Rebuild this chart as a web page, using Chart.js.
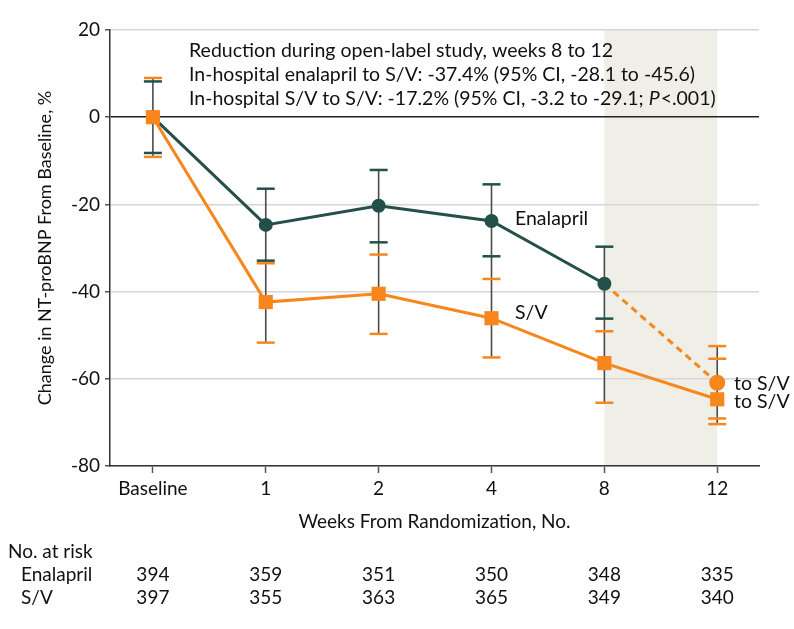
<!DOCTYPE html>
<html lang="en">
<head>
<meta charset="UTF-8">
<title>NT-proBNP change</title>
<script src="https://cdn.jsdelivr.net/npm/chart.js"></script>
<style>
  html, body { margin: 0; padding: 0; background: #fff; }
  #wrap { width: 794px; height: 629px; }
</style>
</head>
<body>
<div id="wrap"><canvas id="chart" width="794" height="629"></canvas></div>
<script>
// categories
const weekLabels = ['Baseline', '1', '2', '4', '8', '12'];

// Enalapril (randomized phase, baseline..week 8)
const enalMean  = [0, -24.7, -20.3, -23.8, -38.2];
const enalUpper = [8.2, -16.4, -12.1, -15.4, -29.7];
const enalLower = [-8.2, -32.9, -28.7, -31.9, -46.2];

// S/V (baseline..week 12)
const svMean  = [0, -42.4, -40.5, -46.1, -56.4, -64.7];
const svUpper = [9.0, -33.5, -31.5, -37.1, -49.1, -55.4];
const svLower = [-9.1, -51.7, -49.7, -55.1, -65.5, -70.4];

// enalapril switched to S/V at week 12
const switchMean  = -60.9;
const switchUpper = -52.5;
const switchLower = -69.1;

// number at risk
const atRiskEnal = [394, 359, 351, 350, 348, 335];
const atRiskSV   = [397, 355, 363, 365, 349, 340];

const annotation = [
  'Reduction during open-label study, weeks 8 to 12',
  'In-hospital enalapril to S/V: -37.4% (95% CI, -28.1 to -45.6)',
  'In-hospital S/V to S/V: -17.2% (95% CI, -3.2 to -29.1; '
];

const TEAL = '#24504b';
const ORANGE = '#f7861c';
const FONT = 'Lato';

const pts = (arr) => arr.map((v, i) => ({ x: i, y: v }));

const shading = {
  id: 'shading',
  beforeDraw(chart) {
    const { ctx, chartArea, scales } = chart;
    ctx.save();
    ctx.fillStyle = '#fff';
    ctx.fillRect(0, 0, chart.width, chart.height);
    const x0 = scales.x.getPixelForValue(4);
    const x1 = scales.x.getPixelForValue(5);
    ctx.fillStyle = '#efefe8';
    ctx.fillRect(x0, chartArea.top, x1 - x0, chartArea.bottom - chartArea.top);
    ctx.restore();
  }
};

const errorBars = {
  id: 'errorBars',
  beforeDatasetsDraw(chart) {
    const { ctx, scales } = chart;
    const xs = scales.x, ys = scales.y;
    const cap = 9;
    const drawBar = (i, up, lo, color) => {
      const x = xs.getPixelForValue(i);
      ctx.strokeStyle = color;
      ctx.lineWidth = 2.5;
      [up, lo].forEach(v => {
        const y = ys.getPixelForValue(v);
        ctx.beginPath();
        ctx.moveTo(x - cap, y);
        ctx.lineTo(x + cap, y);
        ctx.stroke();
      });
    };
    ctx.save();
    // vertical whiskers
    ctx.strokeStyle = '#4a4a4a';
    ctx.lineWidth = 1.6;
    for (let i = 0; i < weekLabels.length; i++) {
      const vals = [svUpper[i], svLower[i]];
      if (i < enalMean.length) vals.push(enalUpper[i], enalLower[i]);
      if (i === 5) vals.push(switchUpper, switchLower);
      const x = xs.getPixelForValue(i);
      ctx.beginPath();
      ctx.moveTo(x, ys.getPixelForValue(Math.max(...vals)));
      ctx.lineTo(x, ys.getPixelForValue(Math.min(...vals)));
      ctx.stroke();
    }
    enalMean.forEach((v, i) => drawBar(i, enalUpper[i], enalLower[i], TEAL));
    svMean.forEach((v, i) => drawBar(i, svUpper[i], svLower[i], ORANGE));
    drawBar(5, switchUpper, switchLower, ORANGE);
    ctx.restore();
  }
};

const labels = {
  id: 'labels',
  afterDraw(chart) {
    const { ctx, scales } = chart;
    const xs = scales.x, ys = scales.y;
    const aFont = `19.5px ${FONT}`;
    ctx.save();
    ctx.fillStyle = '#111';
    ctx.textBaseline = 'middle';
    ctx.textAlign = 'left';
    ctx.font = aFont;
    // annotation block
    ctx.fillText(annotation[0], 189, 51);
    ctx.fillText(annotation[1], 189, 75);
    ctx.fillText(annotation[2], 189, 99);
    const w = ctx.measureText(annotation[2]).width;
    ctx.font = `italic 19.5px ${FONT}`;
    ctx.fillText('P', 189 + w, 99);
    const wp = ctx.measureText('P').width;
    ctx.font = aFont;
    ctx.fillText('<.001)', 189 + w + wp + 1, 99);

    // series labels
    ctx.font = `19.5px ${FONT}`;
    ctx.fillText('Enalapril', 515, ys.getPixelForValue(-23.3));
    ctx.fillText('S/V', 515, ys.getPixelForValue(-44.8));
    ctx.fillText('to S/V', 734, ys.getPixelForValue(switchMean) + 1);
    ctx.fillText('to S/V', 734, ys.getPixelForValue(svMean[5]) + 2);

    // number at risk table
    ctx.font = `19px ${FONT}`;
    ctx.fillText('No. at risk', 8, 552);
    ctx.fillText('Enalapril', 21, 575);
    ctx.fillText('S/V', 21, 598);
    ctx.textAlign = 'center';
    atRiskEnal.forEach((n, i) => ctx.fillText(String(n), xs.getPixelForValue(i), 575));
    atRiskSV.forEach((n, i) => ctx.fillText(String(n), xs.getPixelForValue(i), 598));
    ctx.restore();
  }
};

new Chart(document.getElementById('chart'), {
  type: 'line',
  data: {
    datasets: [
      {
        label: 'S/V',
        data: pts(svMean),
        borderColor: ORANGE,
        backgroundColor: ORANGE,
        borderWidth: 3,
        pointStyle: 'rect',
        pointRadius: 10,
        pointBorderWidth: 0,
        tension: 0
      },
      {
        label: 'Enalapril',
        data: pts(enalMean),
        borderColor: TEAL,
        backgroundColor: TEAL,
        borderWidth: 3,
        pointStyle: 'circle',
        pointRadius: 7,
        pointBorderWidth: 0,
        tension: 0
      },
      {
        label: 'Enalapril to S/V',
        data: [{ x: 4, y: enalMean[4] }, { x: 5, y: switchMean }],
        borderColor: ORANGE,
        backgroundColor: ORANGE,
        borderWidth: 3,
        borderDash: [7, 5],
        pointStyle: 'circle',
        pointRadius: [0, 8],
        pointBorderWidth: 0,
        tension: 0
      }
    ]
  },
  options: {
    responsive: false,
    animation: false,
    events: [],
    layout: { padding: { top: 30, right: 35, bottom: 93, left: 0 } },
    plugins: { legend: { display: false }, tooltip: { enabled: false } },
    scales: {
      x: {
        type: 'linear',
        min: -0.38,
        max: 5.37,
        afterFit(scale) { scale.height = 70; },
        afterBuildTicks(scale) { scale.ticks = weekLabels.map((_, i) => ({ value: i })); },
        ticks: {
          callback: (v) => weekLabels[v],
          font: { family: FONT, size: 19 },
          color: '#111',
          padding: 4,
          maxRotation: 0,
          autoSkip: false
        },
        grid: { drawOnChartArea: false, tickLength: 7, tickColor: '#555', tickWidth: 1.5 },
        border: { color: '#333', width: 1.5 },
        title: {
          display: true,
          text: 'Weeks From Randomization, No.',
          font: { family: FONT, size: 19 },
          color: '#111',
          padding: { top: 0, bottom: 3 }
        }
      },
      y: {
        min: -80,
        max: 20,
        afterFit(scale) { scale.width = 110; },
        ticks: {
          stepSize: 20,
          font: { family: FONT, size: 19 },
          color: '#111',
          padding: 5
        },
        grid: {
          color: (c) => (c.tick && c.tick.value === 0 ? '#222' : '#d6d6d6'),
          lineWidth: 1.5,
          tickLength: 5,
          tickColor: '#555',
          tickWidth: 1.5
        },
        border: { color: '#333', width: 1.5 },
        title: {
          display: true,
          text: 'Change in NT-proBNP From Baseline, %',
          font: { family: FONT, size: 18 },
          color: '#111',
          padding: { top: 34, bottom: 0 }
        }
      }
    }
  },
  plugins: [shading, errorBars, labels]
});
</script>
</body>
</html>
